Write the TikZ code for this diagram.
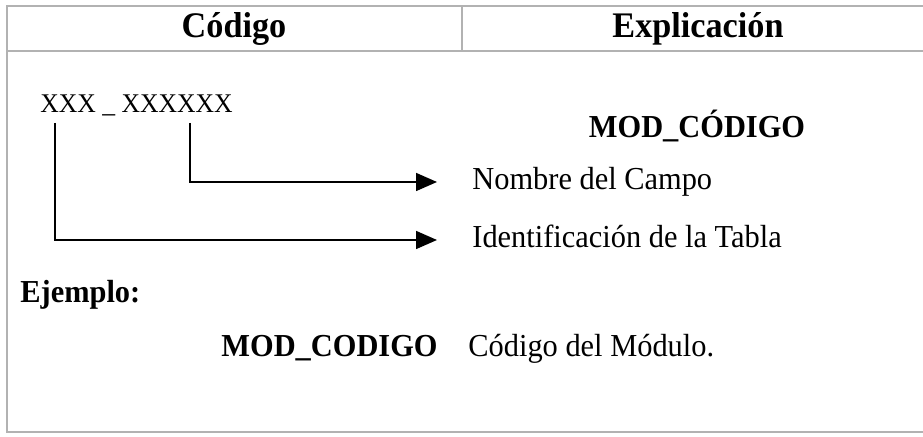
\documentclass[tikz,border=0pt]{standalone}
\usepackage{fontspec}
\setmainfont{Liberation Serif}[FakeStretch=0.95]
\usetikzlibrary{arrows.meta}

\begin{document}
\begin{tikzpicture}[
    x=0.5pt, y=-0.5pt,
    rule/.style={draw=gray!60, line width=1pt},
    head/.style={font=\fontsize{18}{20}\selectfont\bfseries, inner sep=0pt},
    txt/.style={font=\fontsize{16}{18}\selectfont, inner sep=0pt, anchor=base west},
    btxt/.style={txt, font=\fontsize{16}{18}\selectfont\bfseries},
    label/.style={txt, anchor=west, text height=11pt, text depth=3.5pt},
    arrow/.style={-{Triangle[length=10.5pt,width=9pt]}, line width=0.8pt, shorten >=17.5pt}
]
\useasboundingbox (0,0) rectangle (923,437);

% table frame
\draw[rule] (923,6) -- (7,6) -- (7,432) -- (923,432);
\draw[rule] (7,51) -- (923,51);
\draw[rule] (462,6) -- (462,51);

\node[head] at (234,29) (hcod) {Código};
\node[head] at (698,29) (hexp) {Explicación};

\node[txt, font=\fontsize{13.5}{15}\selectfont] at (40,113) (fmt) {XXX \_ XXXXXX};
\node[btxt, anchor=base] at (697,138) (mod) {MOD\_CÓDIGO};

\node[label] at (472,182) (campo) {Nombre del Campo};
\node[label] at (472,240) (tabla) {Identificación de la Tabla};

\coordinate (pcampo) at (190,123);
\coordinate (ptabla) at (55,123);

\draw[arrow] (pcampo) |- (campo.west);
\draw[arrow] (ptabla) |- (tabla.west);

\node[btxt] at (20,303) (ej) {Ejemplo:};
\node[btxt, anchor=base east] at (438,357) (exmod) {MOD\_CODIGO};
\node[txt] at (468,357) (exdesc) {Código del Módulo.};
\end{tikzpicture}
\end{document}
